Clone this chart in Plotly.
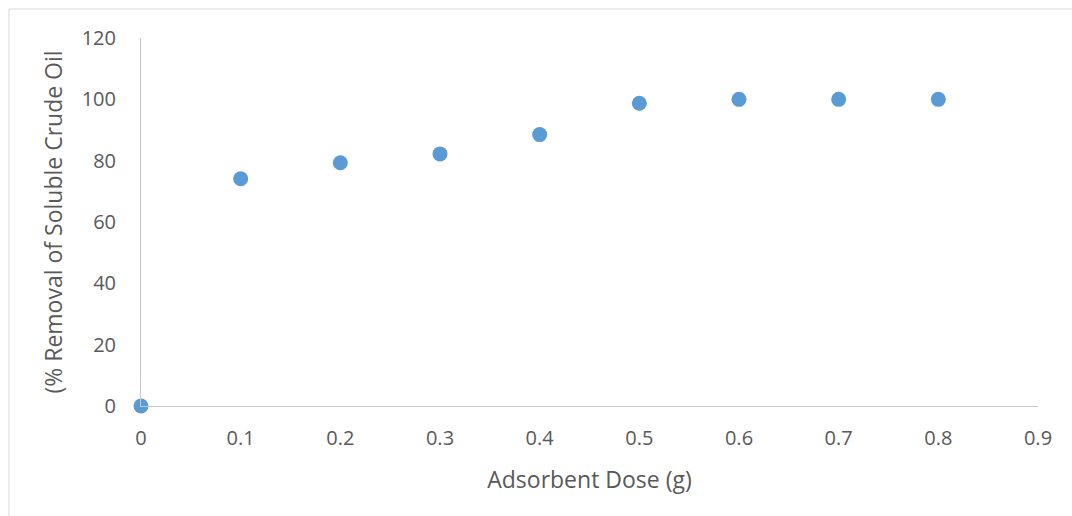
import plotly.graph_objects as go

dose = [0, 0.1, 0.2, 0.3, 0.4, 0.5, 0.6, 0.7, 0.8]
removal = [0, 74.1, 79.3, 82.2, 88.5, 98.7, 100, 100, 100]
x_ticks = [0, 0.1, 0.2, 0.3, 0.4, 0.5, 0.6, 0.7, 0.8, 0.9]
y_ticks = [0, 20, 40, 60, 80, 100, 120]

font_family = "'Open Sans', sans-serif"
text_color = "#595959"

fig = go.Figure()
fig.add_trace(go.Scatter(
    x=dose, y=removal, mode="markers",
    marker=dict(size=15, color="#5B9BD5"),
    cliponaxis=False, showlegend=False,
))

fig.update_layout(
    width=1072, height=516,
    margin=dict(l=141, r=34, t=38, b=110),
    plot_bgcolor="white", paper_bgcolor="white",
    font=dict(family=font_family, color=text_color, size=20),
    xaxis=dict(
        range=[0, 0.9], tickvals=x_ticks, ticktext=[f"{v:g}" for v in x_ticks],
        showgrid=False, zeroline=False, showline=True, linecolor="#C8C8C8", linewidth=1,
        ticks="", ticklabelstandoff=14,
        title=dict(text="Adsorbent Dose (g)", font=dict(size=23, color=text_color), standoff=21),
    ),
    yaxis=dict(
        range=[0, 120], tickvals=y_ticks,
        showgrid=False, zeroline=False, showline=True, linecolor="#C8C8C8", linewidth=1,
        ticks="", ticklabelstandoff=20,
        title=dict(text="(% Removal of Soluble Crude Oil", font=dict(size=23, color=text_color), standoff=12),
    ),
    shapes=[
        dict(type="line", xref="paper", yref="paper",
             x0=(9 - 141) / 897, x1=(1072 - 141) / 897 + 0.01,
             y0=(406 - 9) / 368, y1=(406 - 9) / 368,
             line=dict(color="#D9D9D9", width=1)),
        dict(type="line", xref="paper", yref="paper",
             x0=(9 - 141) / 897, x1=(9 - 141) / 897,
             y0=(406 - 9) / 368, y1=(406 - 520) / 368,
             line=dict(color="#D9D9D9", width=1)),
    ],
)

fig.write_html("out.html")
